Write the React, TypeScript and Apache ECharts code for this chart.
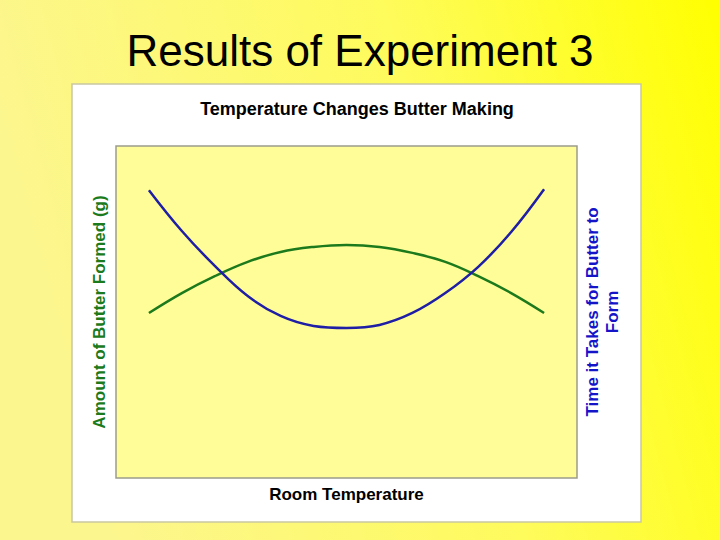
import React, { useEffect, useRef } from "react";
import * as echarts from "echarts";

const temperatures = [1, 2, 3, 4, 5, 6, 7, 8, 9, 10, 11, 12, 13];
const butterAmount = [49.7, 55.7, 60.8, 65.1, 68.1, 69.6, 70.2, 69.6, 67.8, 65.1, 60.8, 55.7, 49.7];
const formTime = [86.7, 74.4, 63.9, 54.8, 48.8, 45.8, 45.2, 46.1, 49.7, 55.7, 63.6, 74.1, 87.0];

const FONT = "'Liberation Sans', Arial, sans-serif";

export default function App() {
  const ref = useRef<HTMLDivElement>(null);
  useEffect(() => {
    if (!ref.current) return;
    const chart = echarts.init(ref.current, null, { renderer: "svg" });
    chart.setOption({
      animation: false,
      backgroundColor: {
        type: "linear",
        x: 0,
        y: 0.2,
        x2: 1,
        y2: 0,
        colorStops: [
          { offset: 0, color: "#FCF68E" },
          { offset: 0.55, color: "#FEFB5C" },
          { offset: 1, color: "#FFFF00" },
        ],
      },
      textStyle: { fontFamily: FONT },
      graphic: [
        {
          type: "rect",
          z: -1,
          shape: { x: 72, y: 84, width: 569, height: 438 },
          style: { fill: "#FFFFFF", stroke: "#C9C7A2", lineWidth: 1.5 },
        },
        {
          type: "text",
          x: 360,
          y: 50,
          style: {
            text: "Results of Experiment 3",
            fontFamily: FONT,
            fontSize: 44,
            fill: "#000000",
            align: "center",
            verticalAlign: "middle",
          },
        },
        {
          type: "text",
          x: 357,
          y: 109,
          style: {
            text: "Temperature Changes Butter Making",
            fontFamily: FONT,
            fontSize: 18,
            fontWeight: "bold",
            fill: "#000000",
            align: "center",
            verticalAlign: "middle",
          },
        },
      ],
      grid: {
        left: 116,
        right: 143,
        top: 146,
        bottom: 62,
        show: true,
        backgroundColor: "#FFFD98",
        borderColor: "#9C9C8C",
        borderWidth: 1.5,
      },
      xAxis: {
        type: "value",
        min: 0,
        max: 14,
        name: "Room Temperature",
        nameLocation: "middle",
        nameGap: 8,
        nameTextStyle: { fontFamily: FONT, fontSize: 17, fontWeight: "bold", color: "#000000" },
        axisLine: { show: false },
        axisTick: { show: false },
        axisLabel: { show: false },
        splitLine: { show: false },
      },
      yAxis: [
        {
          type: "value",
          min: 0,
          max: 100,
          position: "left",
          name: "Amount of Butter Formed (g)",
          nameLocation: "middle",
          nameRotate: 90,
          nameGap: 8,
          nameTextStyle: { fontFamily: FONT, fontSize: 17, fontWeight: "bold", color: "#1B7A1B" },
          axisLine: { show: false },
          axisTick: { show: false },
          axisLabel: { show: false },
          splitLine: { show: false },
        },
        {
          type: "value",
          min: 0,
          max: 100,
          position: "right",
          name: "Time it Takes for Butter to\nForm",
          nameLocation: "middle",
          nameRotate: 90,
          nameGap: 5,
          nameTextStyle: {
            fontFamily: FONT,
            fontSize: 17,
            fontWeight: "bold",
            color: "#1414C8",
            lineHeight: 20,
            align: "center",
          },
          axisLine: { show: false },
          axisTick: { show: false },
          axisLabel: { show: false },
          splitLine: { show: false },
        },
      ],
      series: [
        {
          name: "Amount of Butter Formed (g)",
          type: "line",
          yAxisIndex: 0,
          data: temperatures.map((t, i) => [t, butterAmount[i]]),
          smooth: 0.4,
          symbol: "none",
          lineStyle: { color: "#1C7A1C", width: 2.5 },
        },
        {
          name: "Time it Takes for Butter to Form",
          type: "line",
          yAxisIndex: 1,
          data: temperatures.map((t, i) => [t, formTime[i]]),
          smooth: 0.4,
          symbol: "none",
          lineStyle: { color: "#1E1EA6", width: 2.5 },
        },
      ],
    });
    return () => chart.dispose();
  }, []);
  return (
    <div
      ref={ref}
      style={{ position: "fixed", left: 0, top: 0, width: 720, height: 540 }}
    />
  );
}
